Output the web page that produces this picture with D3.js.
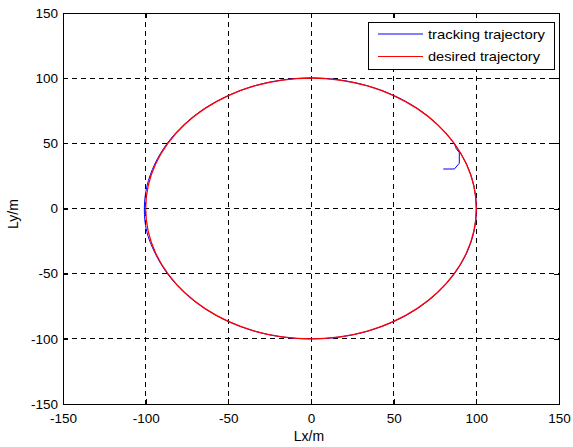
<!DOCTYPE html>
<html>
<head>
<meta charset="utf-8">
<script src="https://cdn.jsdelivr.net/npm/d3@7"></script>
<style>
body { margin: 0; background: #fff; }
text { font-family: "Liberation Sans", Arial, sans-serif; }
</style>
</head>
<body>
<script>
var w = 573, h = 447;
var margin = {left: 63, top: 13, right: 14, bottom: 43};

// tick values
var xTicks = [-150, -100, -50, 0, 50, 100, 150];
var yTicks = [-150, -100, -50, 0, 50, 100, 150];

// desired trajectory (every 10 degrees)
var desiredX = [100, 98.5, 94, 86.6, 76.6, 64.3, 50, 34.2, 17.4, 0, -17.4, -34.2, -50, -64.3, -76.6, -86.6, -94, -98.5,
                -100, -98.5, -94, -86.6, -76.6, -64.3, -50, -34.2, -17.4, 0, 17.4, 34.2, 50, 64.3, 76.6, 86.6, 94, 98.5];
var desiredY = [0, 17.4, 34.2, 50, 64.3, 76.6, 86.6, 94, 98.5, 100, 98.5, 94, 86.6, 76.6, 64.3, 50, 34.2, 17.4,
                0, -17.4, -34.2, -50, -64.3, -76.6, -86.6, -94, -98.5, -100, -98.5, -94, -86.6, -76.6, -64.3, -50, -34.2, -17.4];

// tracking trajectory
var trackX = [80, 86.7, 89.7, 89.7, 87.7, 86.4, 76.5, 64.4, 50.1, 34.3, 17.5, 0.2, -17.3, -34.3, -50.1, -64.5, -76.9, -87.0, -94.5, -99.2,
              -100.8, -99.4, -94.3, -86.8, -76.7, -64.3, -50, -34.1, -17.3, 0, 17.4, 34.3, 50.1, 64.4, 76.7, 86.7, 94.1, 98.6, 100, 98.5, 94, 86.6];
var trackY = [30.3, 30.3, 34.7, 42.8, 46.2, 50.2, 64.4, 76.7, 86.7, 94.1, 98.6, 100.2, 98.6, 94.1, 86.6, 76.6, 64.2, 49.9, 34.1, 17.3,
              0, -17.4, -34.3, -50.1, -64.4, -76.7, -86.7, -94.1, -98.6, -100, -98.6, -94.1, -86.7, -76.7, -64.4, -50.1, -34.3, -17.4, 0, 17.4, 34.2, 50];

var legendLabels = ["tracking trajectory", "desired trajectory"];
var legendWidths = [117, 112];
var colors = ["#0000ff", "#ff0000"];

var iw = w - margin.left - margin.right, ih = h - margin.top - margin.bottom;

var svg = d3.select("body").append("svg")
  .attr("width", w).attr("height", h);

var x = d3.scaleLinear().domain([-150, 150]).range([0, iw]);
var y = d3.scaleLinear().domain([-150, 150]).range([ih, 0]);

var g = svg.append("g").attr("transform", "translate(" + margin.left + "," + margin.top + ")");

g.append("rect").attr("width", iw).attr("height", ih).attr("fill", "#fff");

// grid
g.append("g").selectAll("line").data(xTicks.slice(1, -1)).enter().append("line")
  .attr("x1", function(d){ return x(d); }).attr("x2", function(d){ return x(d); })
  .attr("y1", 0).attr("y2", ih)
  .attr("stroke", "#000").attr("stroke-width", 1).attr("stroke-dasharray", "5,4")
  .attr("shape-rendering", "crispEdges");
g.append("g").selectAll("line").data(yTicks.slice(1, -1)).enter().append("line")
  .attr("y1", function(d){ return y(d); }).attr("y2", function(d){ return y(d); })
  .attr("x1", 0).attr("x2", iw)
  .attr("stroke", "#000").attr("stroke-width", 1).attr("stroke-dasharray", "5,4")
  .attr("shape-rendering", "crispEdges");

// axes
var fmt = function(d){ return d; };
var xb = g.append("g").attr("transform", "translate(0," + ih + ")")
  .call(d3.axisBottom(x).tickValues(xTicks).tickSize(-5).tickPadding(9).tickFormat(fmt));
var xt = g.append("g").call(d3.axisTop(x).tickValues(xTicks).tickSize(-5).tickFormat(""));
var yl = g.append("g").call(d3.axisLeft(y).tickValues(yTicks).tickSize(-5).tickPadding(5).tickFormat(fmt));
var yr = g.append("g").attr("transform", "translate(" + iw + ",0)")
  .call(d3.axisRight(y).tickValues(yTicks).tickSize(-5).tickFormat(""));
[xb, xt, yl, yr].forEach(function(a){
  a.select(".domain").remove();
  a.selectAll("line").attr("stroke", "#000").attr("shape-rendering", "crispEdges");
  a.selectAll("text").attr("font-size", 13.5).attr("fill", "#000")
    .style("font-family", "'Liberation Sans', Arial, sans-serif");
});
g.append("rect").attr("width", iw).attr("height", ih).attr("fill", "none")
  .attr("stroke", "#000").attr("stroke-width", 1).attr("shape-rendering", "crispEdges");

// lines
var line = d3.line().x(function(d){ return x(d[0]); }).y(function(d){ return y(d[1]); });
var trackPts = d3.zip(trackX, trackY);
var desiredPts = d3.zip(desiredX, desiredY);

g.append("path").datum(trackPts)
  .attr("d", line.curve(d3.curveLinear)(trackPts.slice(0, 5)) + line.curve(d3.curveCatmullRom)(trackPts.slice(4)))
  .attr("fill", "none").attr("stroke", colors[0]).attr("stroke-width", 1);
g.append("path").datum(desiredPts)
  .attr("d", line.curve(d3.curveCatmullRomClosed)(desiredPts))
  .attr("fill", "none").attr("stroke", colors[1]).attr("stroke-width", 1.3);

// legend
var lg = svg.append("g").attr("transform", "translate(368,22)");
lg.append("rect").attr("width", 186).attr("height", 47)
  .attr("fill", "#fff").attr("stroke", "#000").attr("shape-rendering", "crispEdges");
legendLabels.forEach(function(lab, i){
  var yy = 12 + i * 22.5;
  lg.append("line").attr("x1", 10).attr("x2", 55).attr("y1", yy).attr("y2", yy)
    .attr("stroke", colors[i]).attr("stroke-width", 1);
  lg.append("text").attr("x", 60).attr("y", yy).attr("dy", "0.35em")
    .attr("font-size", 13.5).attr("textLength", legendWidths[i])
    .attr("lengthAdjust", "spacingAndGlyphs").text(lab);
});

// axis labels
svg.append("text").attr("x", margin.left + iw / 2 - 2).attr("y", 441)
  .attr("text-anchor", "middle").attr("font-size", 14).text("Lx/m");
svg.append("text").attr("transform", "translate(18,214) rotate(-90)")
  .attr("text-anchor", "middle").attr("font-size", 14).text("Ly/m");
</script>
</body>
</html>
